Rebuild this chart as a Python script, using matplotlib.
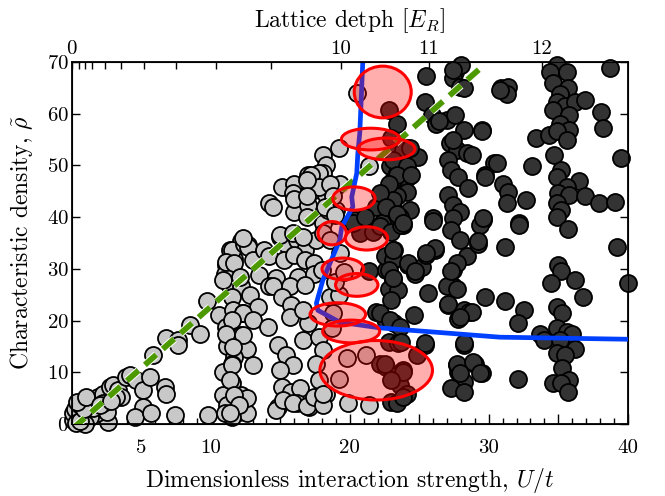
import numpy as np
import matplotlib
matplotlib.use("Agg")
import matplotlib.pyplot as plt
import matplotlib.patheffects as pe
from matplotlib.patches import Ellipse

plt.rcParams['font.family'] = 'cmr10'
plt.rcParams['mathtext.fontset'] = 'cm'
plt.rcParams['axes.unicode_minus'] = False
plt.rcParams['axes.formatter.use_mathtext'] = True

# superfluid side (grey) : (U/t, rho)
grey_pts = [
    (0.1,0.8),(0.45,1.4),(0.8,2.1),(0.1,2.1),(0.22,3.0),(0.58,3.7),(1.17,4.0),(1.53,4.6),(1.9,5.3),
    (2.25,5.9),(2.73,7.2),(2.97,7.5),(3.33,6.6),(3.93,9.1),(4.17,9.5),(4.65,8.5),(5.13,6.6),(5.6,9.1),
    (6.7,7.2),(6.76,5.9),(5.13,3.3),(4.53,1.4),(5.73,2.1),(7.41,1.7),(9.8,1.7),(2.6,0.45),(1.78,2.1),
    (1.3,1.4),(3.57,5.3),(2.5,2.4),(0.94,0.0),(2.25,4.0),(3.2,5.3),(5.85,13.3),(6.76,16.6),(7.65,16.2),
    (7.65,15.3),(8.5,19.1),(9.2,17.5),(9.7,23.7),(0.3,0.2),(0.6,0.5),(1.5,3.2),(0.9,3.0),(0.4,4.2),
    (1.0,5.2),(2.0,3.6),(2.8,4.5),
    (12.2,35.3),(12.7,34.6),(11.4,33.7),(11.1,30.8),(11.7,32.0),(11.0,29.1),(11.4,26.6),(12.2,26.6),
    (11.5,24.6),(10.6,21.1),(11.6,22.0),(12.3,21.4),(11.1,18.8),(11.5,16.9),(12.2,17.2),(11.2,15.0),
    (12.6,14.6),(11.7,13.0),(11.5,11.7),(10.9,10.1),(11.5,7.9),(10.9,5.6),(11.7,4.6),(11.2,3.7),
    (12.0,2.4),(12.6,2.1),(11.5,1.4),(11.0,2.1),(12.2,5.6),(12.6,5.0),(11.5,33.6),(12.4,34.9),
    (12.7,34.3),(11.1,31.4),(11.7,31.1),(13.0,31.7),(10.9,27.8),(12.1,28.5),(13.5,28.8),(12.3,35.9),
    (12.8,24.9),(13.4,22.7),(12.3,21.4),(13.0,20.1),(11.5,20.1),(11.1,17.5),(12.3,17.2),(11.6,14.9),
    (13.0,11.4),(11.5,11.4),(11.4,8.5),(11.7,5.6),(12.0,3.7),(11.4,2.1),
    (13.8,33.6),(15.0,36.2),(15.4,34.9),(16.2,35.6),(16.8,33.6),(17.6,35.6),(14.2,32.4),(15.3,31.7),
    (16.0,32.7),(16.8,31.7),(17.4,31.1),(14.7,28.2),(16.3,28.5),(17.4,29.1),(14.2,26.6),(15.7,26.6),
    (15.0,36.6),(15.9,36.9),(16.6,36.2),(14.5,26.6),(15.1,24.6),(15.8,23.0),(15.7,20.7),(14.1,18.8),
    (14.8,15.3),(15.4,13.3),(15.9,11.4),(15.0,10.4),(15.1,7.2),(15.8,6.2),(16.4,6.9),(16.2,4.0),
    (14.8,3.3),(17.1,3.3),(16.6,16.2),(17.0,19.5),(16.6,22.0),(16.8,26.9),(14.7,2.7),(15.2,4.6),
    (15.9,4.0),(16.9,3.4),(17.4,5.3),
    (17.8,16.9),(18.1,14.3),(17.6,11.7),(17.8,8.5),(18.3,5.9),(18.1,3.7),(19.9,4.0),(21.4,3.7),
    (18.6,24.6),(19.2,24.9),(19.2,8.8),(19.8,12.7),(21.2,13.3),(18.1,5.9),
    (15.1,45.9),(16.0,46.5),(15.9,44.7),(14.2,42.7),(14.5,42.0),(16.0,41.0),(17.0,48.2),(18.1,52.0),
    (18.3,50.1),(18.1,48.5),(19.2,53.3),(17.4,45.3),(18.1,45.9),(18.3,44.3),(19.3,46.5),(20.5,64.0),
    (17.8,48.5),(17.2,48.2),(16.0,43.6),(17.8,45.9),(18.6,46.5),(19.0,41.4),(17.0,42.4),(18.1,38.8),
    (18.4,41.4),(16.9,47.2),(16.9,44.0),(18.8,44.0),(18.2,42.0),(18.9,40.4),(16.9,40.1),(21.4,49.8),
    (18.1,36.9),(18.6,35.6),(18.0,29.8),(18.8,21.4),(19.3,33.0),(18.9,27.5),(19.6,29.4),(18.7,18.6),
]

# Mott side (dark)
dark_pts = [
    (25.5,67.2),(27.6,68.1),(28.0,69.5),(27.4,66.9),(27.9,65.2),(25.4,62.3),(25.9,59.8),(26.2,58.1),
    (27.0,58.8),(27.6,59.8),(28.2,56.9),(29.5,56.9),(27.2,54.3),(27.7,53.0),(28.4,52.4),(28.8,52.0),
    (27.4,54.9),(27.1,51.0),(27.3,49.1),(27.8,47.8),(28.5,45.6),(27.1,44.3),(27.4,42.4),(27.9,41.0),
    (26.0,39.8),(29.6,39.4),(30.4,50.4),(29.7,48.2),(31.0,46.5),(31.4,44.9),(31.3,42.7),(30.9,64.9),
    (31.4,65.2),(31.3,63.9),(32.7,43.3),(32.2,38.8),(33.1,49.8),(33.4,55.3),(34.3,55.9),(34.9,69.4),
    (34.4,68.1),(35.6,68.1),(34.6,65.9),(35.7,64.9),(35.1,63.9),(34.9,62.3),(35.5,61.4),(36.2,62.3),
    (36.9,62.7),(34.6,60.7),(35.8,59.8),(35.1,58.1),(35.8,56.9),(34.9,56.6),(35.6,54.9),(34.7,52.0),
    (35.2,49.1),(34.9,47.8),(36.5,46.9),(35.6,45.9),(35.0,44.6),(35.8,44.3),(36.9,44.0),(37.9,42.7),
    (39.1,43.0),(34.9,42.7),(35.2,41.4),(34.9,40.1),(35.7,37.8),(38.1,60.4),(38.2,57.2),(38.7,68.8),
    (39.5,51.4),
    (22.8,60.7),(23.4,58.1),(23.0,55.3),(24.1,53.3),(24.9,51.7),(23.2,52.4),(22.9,49.8),(23.4,48.5),
    (23.8,49.8),(24.2,47.8),(23.6,46.2),(23.1,47.2),(22.8,45.9),(24.1,44.9),(23.4,44.0),(22.9,42.7),
    (22.4,42.0),(23.2,41.4),(24.3,41.4),(22.6,40.1),(23.6,40.1),(23.8,38.5),(23.0,38.5),(21.9,42.0),
    (22.3,38.8),(20.4,39.4),(20.7,36.9),
    (20.2,38.8),(21.7,37.2),(22.2,38.2),(23.0,37.2),(23.2,33.6),(23.7,38.5),(24.2,30.7),(24.7,29.1),
    (25.2,30.4),(25.5,32.7),(26.1,33.6),(22.6,29.8),(23.1,27.8),(22.8,26.2),(23.5,25.9),(23.0,24.0),
    (21.4,29.5),(21.9,21.7),(22.5,20.4),(23.2,19.5),(24.6,21.1),(25.6,25.3),(27.4,29.8),(27.4,26.6),
    (27.1,23.0),(28.2,22.0),(27.8,20.4),(28.6,21.7),(28.4,32.4),(27.7,31.1),(27.0,26.6),(29.2,34.9),
    (29.7,24.6),(31.2,34.3),(31.2,23.7),(32.5,22.0),(32.1,19.5),(33.7,17.5),(34.0,16.2),(35.0,30.7),
    (35.2,29.5),(34.5,27.2),(36.2,27.8),(36.8,24.6),(34.9,22.7),(35.3,21.4),(34.9,18.5),(35.6,17.8),
    (36.0,17.5),(35.1,16.2),(36.2,14.6),(34.9,13.7),(35.5,13.3),(35.3,10.8),(35.8,8.5),(34.6,7.9),
    (35.2,7.9),(35.7,6.2),(32.1,8.8),(29.5,9.8),(29.0,11.7),(27.7,11.4),(27.8,10.1),(28.2,8.2),
    (27.3,6.9),(28.2,6.2),(28.2,15.3),(25.4,15.3),(39.2,34.3),(40.0,27.2),(29.4,38.5),(32.2,38.5),
    (26.0,39.2),(22.5,32.4),(23.1,31.7),
    (22.2,11.7),(22.6,11.1),(23.8,10.4),(23.1,9.2),(23.6,7.5),(24.1,5.9),(23.0,4.3),(23.4,4.0),
    (24.8,13.3),(22.8,15.9),(23.5,15.6),
    (27.4,68.5),(28.2,64.9),(30.8,64.6),(26.4,58.5),(29.5,56.6),(29.7,47.8),(30.6,50.4),(27.4,39.8),
    (27.3,37.5),(27.9,35.6),(29.2,35.3),(29.6,39.8),(27.3,29.5),(27.7,26.2),(27.1,23.3),(28.8,21.7),
    (27.9,20.7),(26.1,34.0),(25.5,33.0),(24.2,31.1),(24.7,29.5),(25.4,15.6),(28.2,15.6),(27.7,11.7),
    (28.9,12.0),(29.4,9.8),(27.9,9.8),(23.8,53.0),(24.3,53.3),(23.1,51.0),(24.1,49.8),(23.4,48.2),
    (24.4,48.2),(22.8,46.5),(23.1,43.3),(22.2,44.6),(22.6,42.0),(23.4,40.7),(23.8,38.8),(23.1,33.6),
    (22.8,29.8),(23.1,28.2),(22.2,21.4),(22.9,20.1),(23.6,18.8),(21.1,40.1),(23.7,15.9),(22.5,11.7),
    (23.8,10.1),(23.0,8.5),(23.8,5.3),
]

# transition boundary
boundary_U = [20.94, 20.72, 20.58, 20.5, 20.14, 20.22, 19.42, 19.28, 18.06, 17.6, 17.7, 19.28, 22.16, 30.8, 40.0]
boundary_rho = [70.4, 56.3, 52.4, 48.5, 43.9, 42.0, 38.1, 35.6, 27.8, 23.4, 22.0, 19.7, 18.6, 16.8, 16.4]

# linear fit
fit_U = [0.1, 29.4]
fit_rho = [-0.8, 68.8]

# error ellipses: centre U, centre rho, width, height
ell_U = [22.37, 21.5, 22.64, 20.3, 18.73, 21.2, 19.5, 20.5, 19.14, 20.1, 21.9]
ell_rho = [64.2, 55.1, 53.2, 43.6, 36.9, 35.9, 30.0, 26.9, 21.2, 17.9, 10.4]
ell_w = [4.1, 4.2, 4.1, 3.05, 2.04, 3.05, 3.0, 3.05, 4.0, 4.1, 8.1]
ell_h = [10.0, 4.2, 4.2, 4.5, 4.5, 4.5, 4.2, 4.4, 4.5, 4.4, 11.5]

# top axis: lattice depth 0..12 E_R placed at U/t
depth_at_U = [0, 0.5, 0.94, 1.46, 2.37, 3.56, 5.2, 7.46, 10.4, 14.3, 19.35, 25.7, 33.8]
depth_labels = ['0', '', '', '', '', '', '', '', '', '', '10', '11', '12']

fig = plt.figure(figsize=(6.65, 4.96), dpi=100)
ax = fig.add_axes([0.108, 0.145, 0.836, 0.730])

g = np.array(grey_pts)
d = np.array(dark_pts)
ax.scatter(g[:, 0], g[:, 1], s=150, c='#c8c8c8', edgecolors='black', linewidths=1.3, zorder=2, clip_on=False)
ax.scatter(d[:, 0], d[:, 1], s=150, c='#333333', edgecolors='black', linewidths=1.3, zorder=3, clip_on=False)

fl, = ax.plot(fit_U, fit_rho, color='#4c9a00', lw=4.2, zorder=4, solid_capstyle='butt',
              path_effects=[pe.Stroke(linewidth=5.6, foreground='white'), pe.Normal()])
fl.set_dashes((2.6, 1.5))
fl.set_dash_capstyle('butt')

ax.plot(boundary_U, boundary_rho, color='#0040ff', lw=3.4, zorder=5, solid_joinstyle='round')

for cu, cr, w, h in zip(ell_U, ell_rho, ell_w, ell_h):
    ax.add_patch(Ellipse((cu, cr), w, h, facecolor=(1, 0, 0, 0.32), edgecolor='red', lw=2.2, zorder=6))

ax.set_xlim(0, 40)
ax.set_ylim(0, 70)
ax.set_xticks(np.arange(0, 41, 5))
ax.set_xticklabels(['' if v in (0, 15, 25, 35) else str(v) for v in range(0, 41, 5)])
ax.set_xticks(np.arange(0, 41, 1), minor=True)
ax.set_yticks(np.arange(0, 71, 10))
ax.tick_params(axis='x', which='both', direction='in', top=False, labelsize=15, pad=11)
ax.tick_params(axis='x', which='major', length=7, width=1)
ax.tick_params(axis='x', which='minor', length=4, width=1)
ax.tick_params(axis='y', direction='in', right=True, length=6, width=1, labelsize=15, pad=2)
for sp in ax.spines.values():
    sp.set_linewidth(1.3)

ax.set_xlabel('Dimensionless interaction strength, $U/t$', fontsize=17, labelpad=6)
ax.set_ylabel(r'Characteristic density, $\tilde{\rho}$', fontsize=17, labelpad=9)

ax2 = ax.twiny()
ax2.set_xlim(ax.get_xlim())
ax2.set_xticks(depth_at_U)
ax2.set_xticklabels(depth_labels)
ax2.tick_params(axis='x', direction='in', length=5, width=1, labelsize=15, pad=3)
ax2.set_xlabel('Lattice detph $[E_R]$', fontsize=17, labelpad=9)

fig.savefig('out.png', dpi=100)
